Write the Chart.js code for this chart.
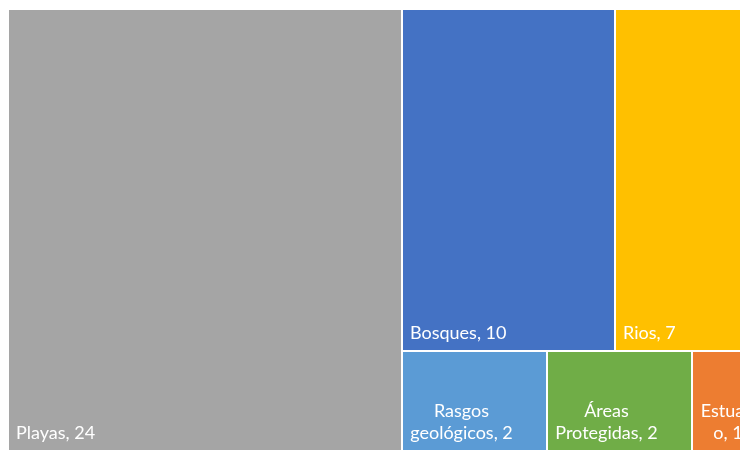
<!DOCTYPE html>
<html>
<head>
<meta charset="utf-8">
<script src="https://cdn.jsdelivr.net/npm/chart.js@4.4.0/dist/chart.umd.min.js"></script>
<style>
  html, body { margin: 0; padding: 0; overflow: hidden; background: #ffffff; }
  #c { display: block; }
</style>
</head>
<body>
<canvas id="c" width="772" height="454" style="width:772px;height:454px"></canvas>
<script>
// ---- data ----
const categories = ['Bosques', 'Estuario', 'Playas', 'Rios', 'Rasgos geológicos', 'Áreas Protegidas'];
const values = [10, 1, 24, 7, 2, 2];
const colors = ['#4472C4', '#ED7D31', '#A5A5A5', '#FFC000', '#5B9BD5', '#70AD47'];

// ---- squarified treemap layout (computed from the values) ----
const TOL = 1.5;
function squarify(items, x, y, w, h) {
  const total = items.reduce((s, it) => s + it.v, 0);
  const k = (w * h) / total;
  const nodes = items.map(it => Object.assign({}, it, { a: it.v * k }));
  const out = [];
  const worst = (row, side) => {
    const s = row.reduce((t, n) => t + n.a, 0);
    const mx = Math.max(...row.map(n => n.a)), mn = Math.min(...row.map(n => n.a));
    return Math.max(side * side * mx / (s * s), (s * s) / (side * side * mn));
  };
  const layoutRow = (row) => {
    const s = row.reduce((t, n) => t + n.a, 0);
    if (w >= h) {
      const cw = s / h; let yy = y;
      row.forEach(n => { const nh = n.a / cw; out.push(Object.assign(n, { x: x, y: yy, w: cw, h: nh })); yy += nh; });
      x += cw; w -= cw;
    } else {
      const rh = s / w; let xx = x;
      row.forEach(n => { const nw = n.a / rh; out.push(Object.assign(n, { x: xx, y: y, w: nw, h: rh })); xx += nw; });
      y += rh; h -= rh;
    }
  };
  let row = [], i = 0;
  while (i < nodes.length) {
    const side = Math.min(w, h);
    const n = nodes[i];
    if (row.length === 0 || worst(row.concat([n]), side) <= worst(row, side) * TOL) { row.push(n); i++; }
    else { layoutRow(row); row = []; }
  }
  if (row.length) layoutRow(row);
  return out;
}

function wrapText(ctx, name, val, avail) {
  const words = name.split(' ');
  words[words.length - 1] += ',\u00a0' + val;
  const lines = [];
  let cur = '';
  const pushToken = (tok) => {
    const trial = cur ? cur + ' ' + tok : tok;
    if (ctx.measureText(trial).width <= avail) { cur = trial; return; }
    if (cur) { lines.push(cur); cur = ''; }
    if (ctx.measureText(tok).width <= avail) { cur = tok; return; }
    // break overlong token by characters
    let piece = '';
    for (const ch of tok) {
      if (piece && ctx.measureText(piece + ch).width > avail) { lines.push(piece); piece = ch; }
      else piece += ch;
    }
    cur = piece;
  };
  words.forEach(pushToken);
  if (cur) lines.push(cur);
  return lines.map(l => l.replace(/\u00a0/g, ' '));
}

const treemapPlugin = {
  id: 'treemap',
  afterDatasetsDraw(chart) {
    const { ctx, chartArea: a } = chart;
    const xs = chart.scales.x, ys = chart.scales.y;
    const ds = chart.data.datasets[0];
    const items = ds.tree.map((v, i) => ({ v, label: chart.data.labels[i], color: ds.colors[i] }))
                        .sort((p, q) => q.v - p.v);
    const aspect = a.width / a.height;
    const rects = squarify(items, 0, 0, aspect, 1);
    ctx.save();
    const FS = 18;
    ctx.font = FS + 'px Lato, "Open Sans", sans-serif';
    rects.forEach(r => {
      const l = Math.round(xs.getPixelForValue(r.x / aspect));
      const rr = Math.round(xs.getPixelForValue((r.x + r.w) / aspect));
      const t = Math.round(ys.getPixelForValue(r.y));
      const b = Math.round(ys.getPixelForValue(r.y + r.h));
      const x0 = l + 1, y0 = t + 1, w = rr - l - 2, h = b - t - 2;
      ctx.fillStyle = r.color;
      ctx.fillRect(x0, y0, w, h);
      // label
      ctx.fillStyle = '#ffffff';
      ctx.textBaseline = 'alphabetic';
      const full = r.label + ', ' + r.v;
      const pad = 6;
      const baseY = y0 + h - 11;
      if (ctx.measureText(full).width <= w - 2 * pad) {
        ctx.textAlign = 'left';
        ctx.fillText(full, x0 + 7, baseY);
      } else {
        const lines = wrapText(ctx, r.label, r.v, w - 2 * pad);
        ctx.textAlign = 'center';
        const boxW = Math.min(w - 14, 103);
        const cx = x0 + 7 + boxW / 2;
        for (let j = 0; j < lines.length; j++) {
          ctx.fillText(lines[j], cx, baseY - (lines.length - 1 - j) * 22);
        }
      }
    });
    ctx.restore();
  }
};

new Chart(document.getElementById('c'), {
  type: 'scatter',
  data: {
    labels: categories,
    datasets: [{ label: 'Atractivos', data: [], tree: values, colors: colors }]
  },
  options: {
    responsive: false,
    animation: false,
    devicePixelRatio: 1,
    layout: { padding: { left: 8, top: 9, right: 8, bottom: 3 } },
    scales: {
      x: { type: 'linear', min: 0, max: 1, display: false },
      y: { type: 'linear', min: 0, max: 1, reverse: true, display: false }
    },
    plugins: { legend: { display: false }, tooltip: { enabled: false }, title: { display: false } }
  },
  plugins: [treemapPlugin]
});
</script>
</body>
</html>
